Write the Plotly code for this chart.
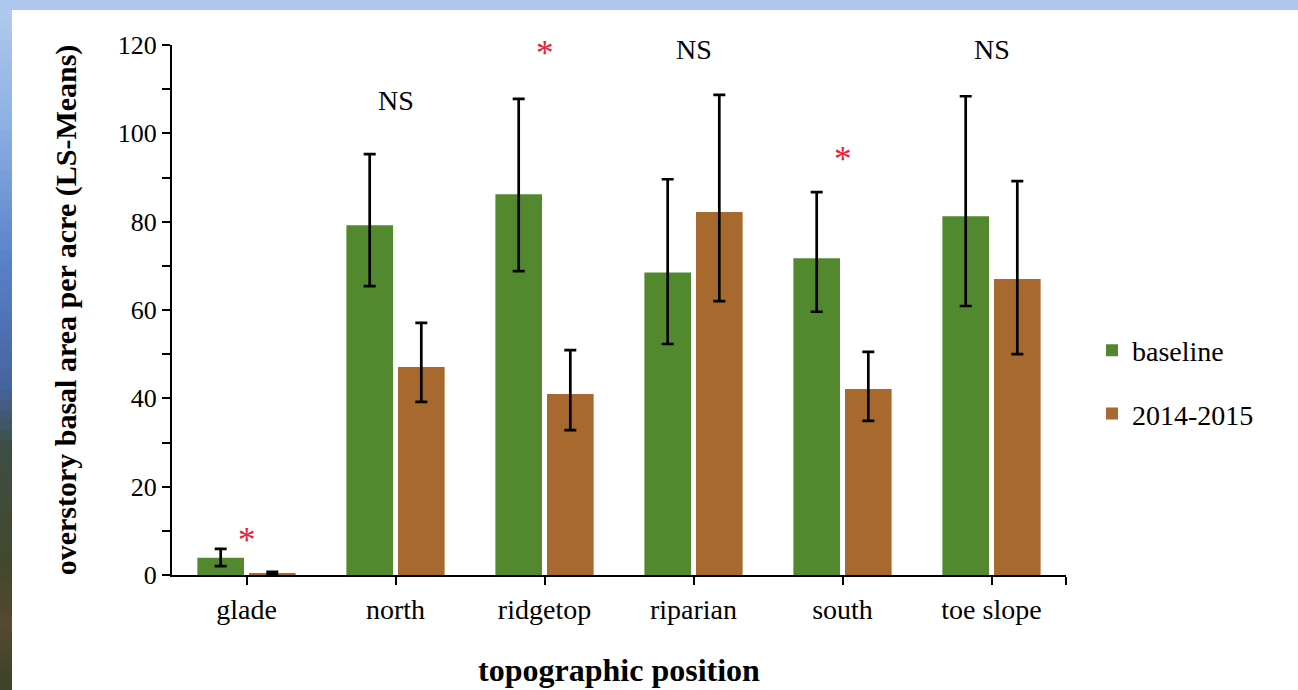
import plotly.graph_objects as go

# ---------------- data ----------------
categories = ["glade", "north", "ridgetop", "riparian", "south", "toe slope"]
baseline = [3.9, 79.2, 86.2, 68.5, 71.7, 81.2]
baseline_upper = [5.9, 95.3, 107.8, 89.6, 86.7, 108.4]
baseline_lower = [2.0, 65.4, 68.8, 52.3, 59.6, 60.9]
recent = [0.4, 47.1, 41.0, 82.2, 42.1, 67.0]
recent_upper = [0.7, 57.1, 50.9, 108.7, 50.5, 89.2]
recent_lower = [0.2, 39.2, 32.8, 62.0, 34.9, 50.0]
series_names = ["baseline", "2014-2015"]
y_tick_values = list(range(0, 121, 10))
y_tick_labels = [str(v) if v % 20 == 0 else "" for v in y_tick_values]
sig_labels = ["*", "NS", "*", "NS", "*", "NS"]
sig_y = [9.0, 107.5, 119.3, 118.9, 95.1, 118.9]

# ---------------- style ----------------
W, H = 1298, 690
L, R, T, B = 172, 232, 45, 115
GREEN = "#52892F"
BROWN = "#A8692E"
SERIF = "Liberation Serif, Times New Roman, serif"

xpos = list(range(len(categories)))

fig = go.Figure()
for name, vals, up, lo, col, grp in [
    (series_names[0], baseline, baseline_upper, baseline_lower, GREEN, "a"),
    (series_names[1], recent, recent_upper, recent_lower, BROWN, "b"),
]:
    fig.add_trace(go.Bar(
        x=xpos, y=vals, name=name, marker=dict(color=col, line=dict(width=0)),
        legendgroup=grp,
        error_y=dict(type="data", symmetric=False,
                     array=[u - v for u, v in zip(up, vals)],
                     arrayminus=[v - l for v, l in zip(vals, lo)],
                     color="black", thickness=2.7, width=6),
    ))

# significance labels
for i, (lab, yy) in enumerate(zip(sig_labels, sig_y)):
    star = lab == "*"
    fig.add_annotation(
        x=xpos[i], y=yy, xref="x", yref="y", text=lab, showarrow=False,
        font=dict(family=SERIF, size=35 if star else 28,
                  color="#E8223C" if star else "black"),
        yanchor="middle", yshift=-5 if star else 0,
    )

# background frame (presentation slide edge)
def lerp(c1, c2, t):
    return "#%02x%02x%02x" % tuple(int(round(a + (b - a) * t)) for a, b in zip(c1, c2))

stops = [(0, (178, 202, 238)), (120, (140, 175, 228)), (260, (88, 128, 200)),
         (380, (70, 100, 160)), (440, (62, 78, 70)), (560, (66, 72, 44)),
         (620, (84, 74, 46)), (690, (58, 66, 40))]
shapes = []
def px2x(px):
    return (px - L) / (W - L - R)
def py2y(py):
    return (H - B - py) / (H - T - B)

step = 10
for y0 in range(0, H, step):
    for (a, ca), (b, cb) in zip(stops[:-1], stops[1:]):
        if a <= y0 < b:
            c = lerp(ca, cb, (y0 - a) / (b - a))
            break
    shapes.append(dict(type="rect", xref="paper", yref="paper",
                       x0=px2x(0), x1=px2x(12), y0=py2y(y0 + step), y1=py2y(y0),
                       fillcolor=c, line=dict(width=0), layer="below"))
shapes.append(dict(type="rect", xref="paper", yref="paper",
                   x0=px2x(0), x1=px2x(W), y0=py2y(10), y1=py2y(0),
                   fillcolor="#AFC7EE", line=dict(width=0), layer="below"))
fig.update_layout(shapes=shapes)

fig.update_layout(
    width=W, height=H,
    margin=dict(l=L, r=R, t=T, b=B, pad=0, autoexpand=False),
    paper_bgcolor="white", plot_bgcolor="white",
    barmode="group", bargap=0.307, bargroupgap=0.097,
    font=dict(family=SERIF, color="black", size=26),
    legend=dict(x=px2x(1092), y=py2y(382), xanchor="left", yanchor="middle",
                font=dict(family=SERIF, size=28), tracegroupgap=24,
                traceorder="grouped", bgcolor="rgba(0,0,0,0)"),
    xaxis=dict(
        range=[-0.5, 5.5], tickmode="array", automargin=False,
        tickvals=xpos + [5.5], ticktext=categories + [""],
        ticks="outside", ticklen=8, tickwidth=2, tickcolor="black",
        showline=True, linecolor="black", linewidth=2, showgrid=False, zeroline=False,
        tickfont=dict(family=SERIF, size=28),
        title=dict(text="<b>topographic position</b>", font=dict(family=SERIF, size=32),
                   standoff=35),
    ),
    yaxis=dict(
        range=[0, 120], tickmode="array", automargin=False,
        tickvals=y_tick_values, ticktext=y_tick_labels,
        ticks="outside", ticklen=8, tickwidth=2, tickcolor="black",
        showline=True, linecolor="black", linewidth=2, showgrid=False, zeroline=False,
        tickfont=dict(family=SERIF, size=26),
        title=dict(text="<b>overstory basal area per acre (LS-Means)</b>",
                   font=dict(family=SERIF, size=30), standoff=32),
    ),
)

fig.write_html("out.html")
